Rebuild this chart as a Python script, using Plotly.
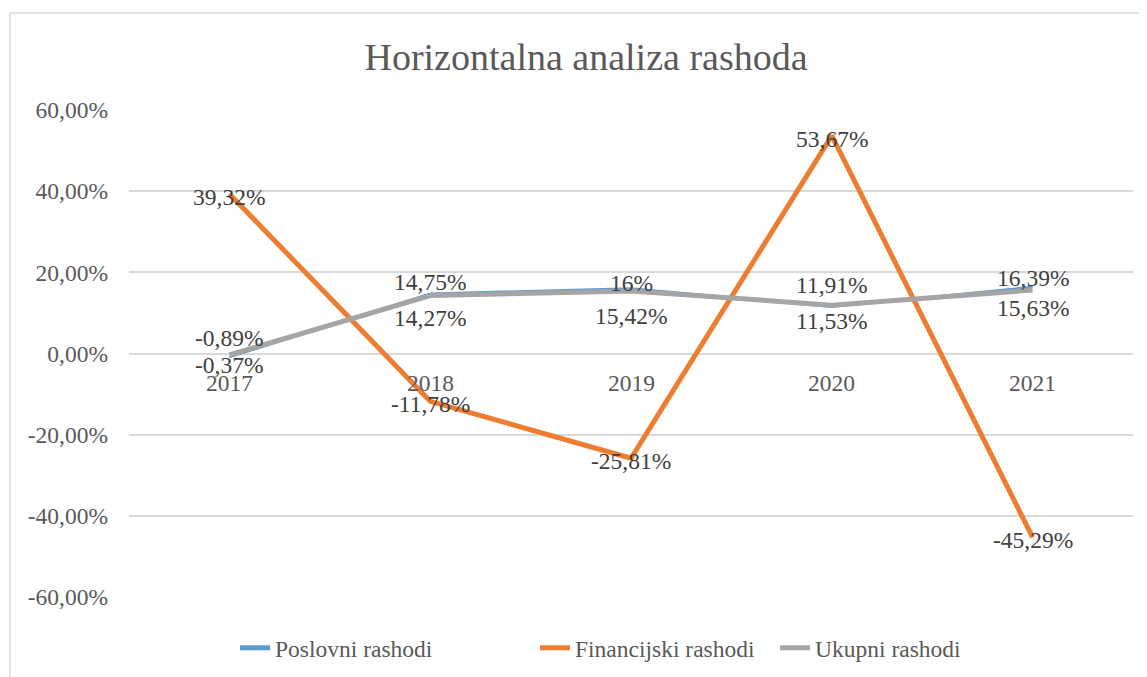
import plotly.graph_objects as go

years = ["2017", "2018", "2019", "2020", "2021"]
poslovni = [-0.89, 14.75, 16.00, 11.53, 16.39]
financijski = [39.32, -11.78, -25.81, 53.67, -45.29]
ukupni = [-0.37, 14.27, 15.42, 11.91, 15.63]
series_names = ["Poslovni rashodi", "Financijski rashodi", "Ukupni rashodi"]
y_ticks = [-60, -40, -20, 0, 20, 40, 60]
title_text = "Horizontalna analiza rashoda"

colors = ["#5B9BD5", "#ED7D31", "#A5A5A5"]
widths = [2.5, 5, 5]
FONT = "Liberation Serif"
FS = 23.5

# label placement (styling): which series label sits above the pair, and pixel nudges
above_is_poslovni = [True, True, True, False, True]
nudge_above = [17, 12, 6, 20, 9]
nudge_below = [-8, -22, -25, -14, -18]


def fmt(v, dec=2):
    s = f"{v:.{dec}f}".rstrip("0").rstrip(".")
    return s.replace(".", ",") + "%"


def fmt_tick(v):
    return f"{v:.2f}".replace(".", ",") + "%"


# page body has an 8px default margin, so the figure is 8px smaller
W, H = 1139, 669
ML, MR, MT, MB = 121, 14, 102, 80
PW = W - ML - MR
PH = H - MT - MB

fig = go.Figure()
for name, vals, c, w in zip(series_names, [poslovni, financijski, ukupni], colors, widths):
    fig.add_trace(go.Scatter(
        x=years, y=vals, name=name, mode="lines", showlegend=False,
        line=dict(color=c, width=w), cliponaxis=False,
    ))

# legend entries (no data points; give uniform legend line thickness)
legend_ids = ["legend", "legend2", "legend3"]
legend_text_start = [275, 575, 815]  # page px
for name, c, lid in zip(series_names, colors, legend_ids):
    fig.add_trace(go.Scatter(x=[None], y=[None], name=name, mode="lines",
                             line=dict(color=c, width=5), legend=lid, showlegend=True))

lab_font = dict(family=FONT, size=FS, color="#404040")
for i, yr in enumerate(years):
    p, u = poslovni[i], ukupni[i]
    hi, lo = max(p, u), min(p, u)
    above_val = p if above_is_poslovni[i] else u
    below_val = u if above_is_poslovni[i] else p
    fig.add_annotation(x=i, y=hi, text=fmt(above_val), showarrow=False,
                       font=lab_font, yshift=nudge_above[i], xref="x", yref="y")
    fig.add_annotation(x=i, y=lo, text=fmt(below_val), showarrow=False,
                       font=lab_font, yshift=nudge_below[i], xref="x", yref="y")
for i, yr in enumerate(years):
    fig.add_annotation(x=i, y=financijski[i], text=fmt(financijski[i]), showarrow=False,
                       font=lab_font, yshift=-3, xref="x", yref="y")
for i, yr in enumerate(years):
    fig.add_annotation(x=i, y=0, text=yr, showarrow=False,
                       font=dict(family=FONT, size=FS, color="#595959"),
                       yshift=-29, xref="x", yref="y")

leg_y = (H - MB - (648 - 8)) / PH
legend_layout = {}
for lid, xs in zip(legend_ids, legend_text_start):
    legend_layout[lid] = dict(
        orientation="h", x=(xs - 35 - 8 - 5 - ML) / PW, y=leg_y,
        xanchor="left", yanchor="middle", xref="paper", yref="paper",
        font=dict(family=FONT, size=FS, color="#595959"),
        bgcolor="rgba(0,0,0,0)", borderwidth=0,
    )

fig.update_layout(
    width=W, height=H,
    margin=dict(l=ML, r=MR, t=MT, b=MB, autoexpand=False),
    paper_bgcolor="white", plot_bgcolor="white",
    font=dict(family=FONT, size=FS, color="#595959"),
    title=dict(text=title_text, x=578 / W, y=1 - 49 / H, xref="container", yref="container",
               xanchor="center", yanchor="middle",
               font=dict(family=FONT, size=38, color="#595959")),
    xaxis=dict(type="category", range=[-0.5, 4.5], showticklabels=False,
               showgrid=False, zeroline=False, showline=False, fixedrange=True),
    yaxis=dict(range=[-60, 60], tickvals=y_ticks, ticktext=[fmt_tick(v) for v in y_ticks],
               showgrid=True, gridcolor="#D9D9D9", gridwidth=1.5,
               zeroline=True, zerolinecolor="#D9D9D9", zerolinewidth=1.5,
               showline=False, ticks="", ticklabelstandoff=20,
               tickfont=dict(family=FONT, size=FS, color="#595959")),
    shapes=[dict(type="rect", xref="paper", yref="paper",
                 x0=-0.1185, x1=1.02, y0=-0.18, y1=1.199,
                 line=dict(color="#D9D9D9", width=1.5), fillcolor="rgba(0,0,0,0)",
                 layer="below")],
    showlegend=True,
    **legend_layout,
)

fig.write_html("out.html")
